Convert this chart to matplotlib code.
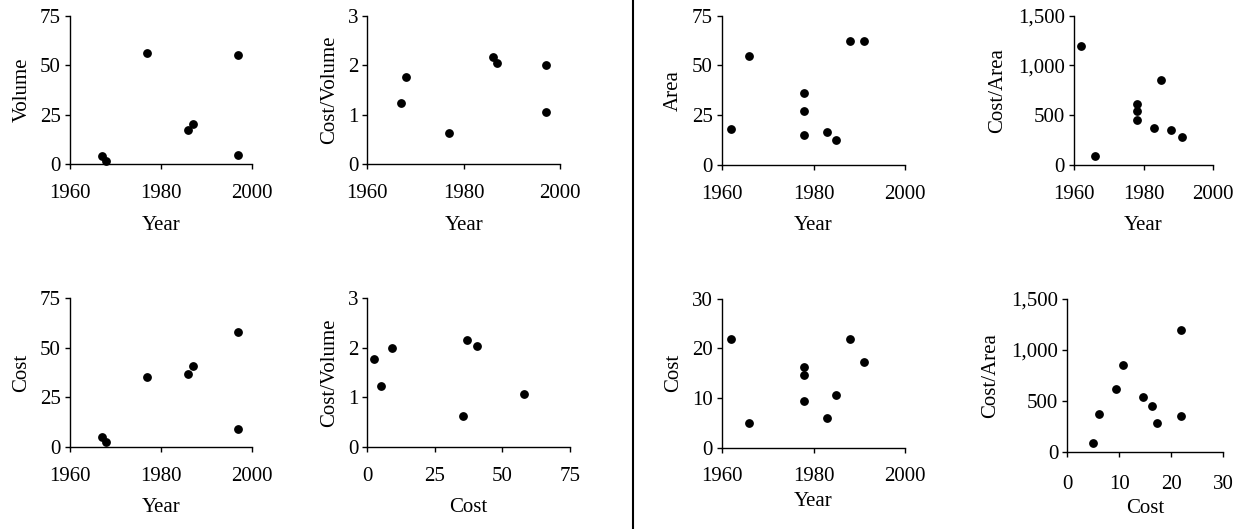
import matplotlib.pyplot as plt
from matplotlib.ticker import FuncFormatter

plt.rcParams['font.family'] = ['Liberation Serif', 'DejaVu Serif']
plt.rcParams['font.size'] = 15

# left group: 7 projects (volume based)
years_v = [1967, 1968, 1977, 1986, 1987, 1997, 1997]
volume = [4.0, 1.4, 56.0, 17.2, 20.2, 54.9, 4.5]
cost_v = [4.9, 2.5, 35.3, 36.9, 40.6, 58.0, 9.0]
cost_per_volume = [1.23, 1.77, 0.63, 2.16, 2.04, 1.06, 2.00]

# right group: 9 projects (area based)
years_a = [1962, 1966, 1978, 1978, 1978, 1983, 1985, 1988, 1991]
area = [18.1, 54.9, 35.9, 27.0, 15.1, 16.3, 12.4, 62.4, 62.1]
cost_a = [21.9, 5.0, 16.3, 14.6, 9.4, 6.1, 10.7, 21.9, 17.3]
cost_per_area = [1195, 88, 448, 538, 616, 366, 848, 348, 278]

W, H = 1240, 529
fig = plt.figure(figsize=(W / 100, H / 100), dpi=100)


def make_ax(x0, x1, y0, y1):
    # pixel box -> figure fraction (y measured from the top)
    return fig.add_axes([x0 / W, 1 - y0 / H, (x1 - x0) / W, (y0 - y1) / H])


def style(ax, xlim, ylim, xticks, yticks, xlabel, ylabel, comma=False, xpad=11, lpad=9, ypad=6):
    ax.set_xlim(xlim)
    ax.set_ylim(ylim)
    ax.set_xticks(xticks)
    ax.set_yticks(yticks)
    for s in ['top', 'right']:
        ax.spines[s].set_visible(False)
    for s in ['left', 'bottom']:
        ax.spines[s].set_linewidth(1)
        ax.spines[s].set_color('black')
    ax.tick_params(axis='both', direction='out', length=3.6, width=1, labelsize=15)
    ax.tick_params(axis='x', pad=xpad)
    ax.tick_params(axis='y', pad=3)
    ax.set_xlabel(xlabel, fontsize=15, labelpad=lpad)
    ax.set_ylabel(ylabel, fontsize=15, labelpad=ypad)
    if comma:
        ax.yaxis.set_major_formatter(FuncFormatter(lambda v, p: f'{int(v):,}'))
    ax.patch.set_alpha(0)


def dots(ax, x, y):
    ax.plot(x, y, 'o', color='black', markersize=5.3, clip_on=False)


yr = [1960, 1980, 2000]

ax1 = make_ax(70, 252, 164, 15.7)
dots(ax1, years_v, volume)
style(ax1, (1960, 2000), (0, 75), yr, [0, 25, 50, 75], 'Year', 'Volume')

ax2 = make_ax(367.3, 560, 164, 15.7)
dots(ax2, years_v, cost_per_volume)
style(ax2, (1960, 2000), (0, 3), yr, [0, 1, 2, 3], 'Year', 'Cost/Volume')

ax5 = make_ax(70, 252, 446.7, 298.3)
dots(ax5, years_v, cost_v)
style(ax5, (1960, 2000), (0, 75), yr, [0, 25, 50, 75], 'Year', 'Cost')

ax6 = make_ax(367.3, 569.7, 446.7, 298.3)
dots(ax6, cost_v, cost_per_volume)
style(ax6, (0, 75), (0, 3), [0, 25, 50, 75], [0, 1, 2, 3], 'Cost', 'Cost/Volume')

ax3 = make_ax(721.7, 905.3, 164.7, 15.7)
dots(ax3, years_a, area)
style(ax3, (1960, 2000), (0, 75), yr, [0, 25, 50, 75], 'Year', 'Area')

ax4 = make_ax(1074, 1213, 164.7, 15.7)
dots(ax4, years_a, cost_per_area)
style(ax4, (1960, 2000), (0, 1500), yr, [0, 500, 1000, 1500], 'Year', 'Cost/Area',
      comma=True, ypad=8)

ax7 = make_ax(721.7, 905.3, 448, 298.7)
dots(ax7, years_a, cost_a)
style(ax7, (1960, 2000), (0, 30), yr, [0, 10, 20, 30], 'Year', 'Cost', xpad=10, lpad=4.5)

ax8 = make_ax(1067.3, 1223, 451.7, 298.7)
dots(ax8, cost_a, cost_per_area)
style(ax8, (0, 30), (0, 1500), [0, 10, 20, 30], [0, 500, 1000, 1500], 'Cost', 'Cost/Area',
      comma=True, xpad=13, lpad=4, ypad=8)

# divider between the two groups
fig.add_artist(plt.Line2D([632.7 / W, 632.7 / W], [0, 1], color='black', linewidth=1.5,
                          transform=fig.transFigure))

fig.savefig('out.png', dpi=100)
plt.close(fig)
